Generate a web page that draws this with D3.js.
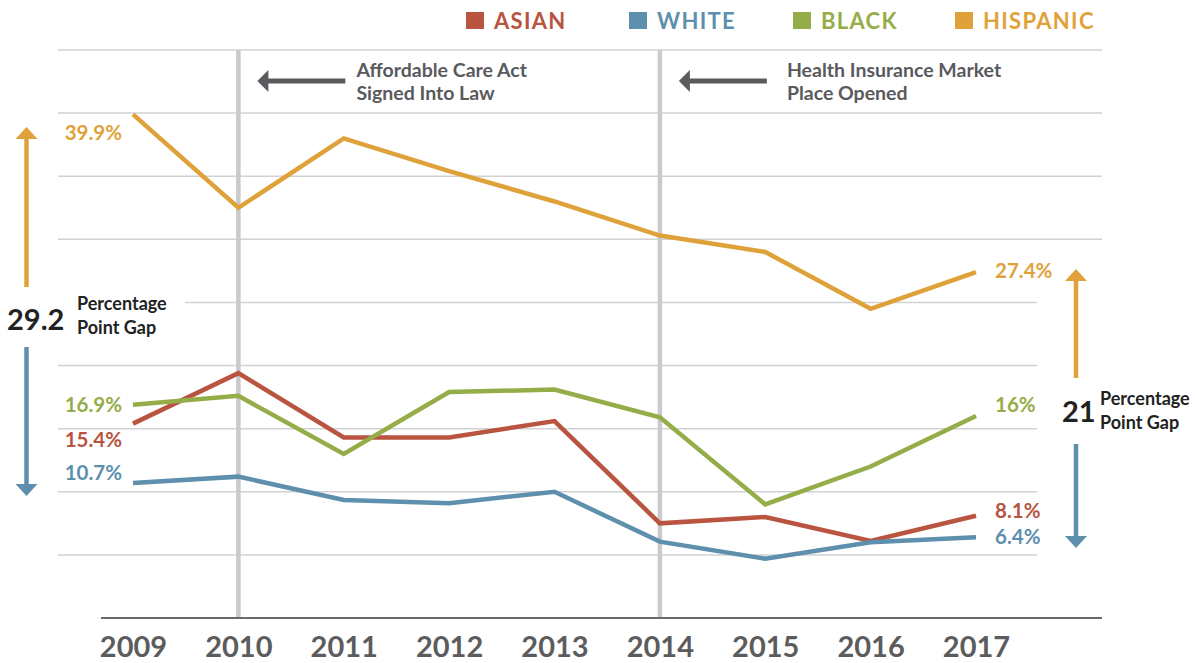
<!DOCTYPE html>
<html>
<head>
<meta charset="utf-8">
<script src="https://cdn.jsdelivr.net/npm/d3@7"></script>
<style>
  html, body { margin: 0; padding: 0; background: #fff; }
  svg { display: block; font-family: Lato, "Open Sans", sans-serif; }
</style>
</head>
<body>
<svg id="chart" width="1195" height="663"></svg>
<script>
// Uninsured rate (%) by group, 2009–2017
const years    = [2009, 2010, 2011, 2012, 2013, 2014, 2015, 2016, 2017];
const asian    = [15.4, 19.4, 14.3, 14.3, 15.6, 7.5, 8.0, 6.1, 8.1];
const white    = [10.7, 11.2, 9.35, 9.1, 10.0, 6.05, 4.7, 6.0, 6.4];
const black    = [16.9, 17.6, 13.0, 17.9, 18.1, 15.9, 9.0, 12.0, 16.0];
const hispanic = [39.9, 32.5, 38.0, 35.4, 33.0, 30.3, 29.0, 24.5, 27.4];
const gridValues = [5, 10, 15, 20, 25, 30, 35, 40, 45];
const seriesNames = ["ASIAN", "WHITE", "BLACK", "HISPANIC"];
const startLabels = ["15.4%", "10.7%", "16.9%", "39.9%"];
const endLabels   = ["8.1%", "6.4%", "16%", "27.4%"];
const eventYears = [2010, 2014];
const eventTexts = [
  ["Affordable Care Act", "Signed Into Law"],
  ["Health Insurance Market", "Place Opened"]
];
const gapStart = "29.2";
const gapEnd = "21";

const colors = ["#B85440", "#5E8FAD", "#95AD48", "#DFA23A"];
const seriesValues = [asian, white, black, hispanic];

const svg = d3.select("#chart");
const x = d3.scaleLinear().domain([2009, 2017]).range([133, 976]);
const y = d3.scaleLinear().domain([0, 45]).range([618, 50]);

// gridlines
svg.append("g").selectAll("line").data(gridValues).join("line")
  .attr("x1", d => d === 25 ? 185 : 58)
  .attr("x2", d => d > 25 ? 1102 : 1037)
  .attr("y1", d => y(d)).attr("y2", d => y(d))
  .attr("stroke", "#D2D2D4").attr("stroke-width", 1.5);

// event markers
svg.append("g").selectAll("line").data(eventYears).join("line")
  .attr("x1", d => x(d)).attr("x2", d => x(d))
  .attr("y1", y(45)).attr("y2", 618)
  .attr("stroke", "#C9C9CE").attr("stroke-width", 4.5);

// x axis baseline and labels
const xAxis = d3.axisBottom(x).tickValues(years).tickFormat(d3.format("d")).tickSize(0).tickPadding(18);
const gx = svg.append("g").attr("transform", "translate(0,618)").call(xAxis);
gx.select(".domain").remove();
gx.selectAll("text").attr("font-size", 29).attr("font-weight", 700)
  .attr("fill", "#5C5C5E").attr("font-family", "Lato, sans-serif");
svg.append("line").attr("x1", 101).attr("x2", 1102).attr("y1", 618).attr("y2", 618)
  .attr("stroke", "#6A6A6C").attr("stroke-width", 2);

// event annotations: arrow pointing back to the marker, two-line caption
const textOffset = [118, 127];
const annot = svg.append("g").selectAll("g").data(eventYears).join("g")
  .attr("transform", d => `translate(${x(d)},0)`);
annot.append("line").attr("x1", 26).attr("x2", 107).attr("y1", 81).attr("y2", 81)
  .attr("stroke", "#5A5B5E").attr("stroke-width", 5);
annot.append("path").attr("d", "M19,81 L30,70 L30,92 Z").attr("fill", "#5A5B5E");
annot.each(function(d, k) {
  const t = d3.select(this).append("text").attr("font-size", 19.5)
    .attr("font-weight", 700).attr("fill", "#595A5D");
  eventTexts[k].forEach((ln, i) =>
    t.append("tspan").attr("x", textOffset[k]).attr("y", 77 + i * 23).text(ln));
});

// series lines
const line = d3.line().x((d, i) => x(years[i])).y(d => y(d));
svg.append("g").selectAll("path").data(seriesValues).join("path")
  .attr("d", d => line(d)).attr("fill", "none")
  .attr("stroke", (d, i) => colors[i]).attr("stroke-width", 4.5)
  .attr("stroke-linejoin", "miter");

// start / end value labels
const labelStyle = s => s.attr("font-size", 20.5).attr("font-weight", 700);
const startY = [447, 480, 412, 140];
const endY = [518, 544, 412, 278];
svg.append("g").selectAll("text").data(startLabels).join("text")
  .attr("x", 122).attr("y", (d, i) => startY[i]).attr("text-anchor", "end")
  .attr("fill", (d, i) => colors[i]).text(d => d).call(labelStyle);
svg.append("g").selectAll("text").data(endLabels).join("text")
  .attr("x", 995).attr("y", (d, i) => endY[i])
  .attr("fill", (d, i) => colors[i]).text(d => d).call(labelStyle);

// legend
const legendX = [466, 629, 793, 955];
const lg = svg.append("g").selectAll("g").data(seriesNames).join("g")
  .attr("transform", (d, i) => `translate(${legendX[i]},0)`);
lg.append("rect").attr("x", 0).attr("y", 12).attr("width", 18).attr("height", 17)
  .attr("fill", (d, i) => colors[i]);
lg.append("text").attr("x", 28).attr("y", 29).attr("font-size", 22).attr("font-weight", 700)
  .attr("letter-spacing", 1.3).attr("fill", (d, i) => colors[i]).text(d => d);

// gap arrows
function gapArrow(cx, top, bottom, color, up) {
  const g = svg.append("g");
  if (up) {
    g.append("line").attr("x1", cx).attr("x2", cx).attr("y1", top + 10).attr("y2", bottom)
      .attr("stroke", color).attr("stroke-width", 4.5);
    g.append("path").attr("d", `M${cx},${top} L${cx - 11},${top + 12} L${cx + 11},${top + 12} Z`).attr("fill", color);
  } else {
    g.append("line").attr("x1", cx).attr("x2", cx).attr("y1", top).attr("y2", bottom - 10)
      .attr("stroke", color).attr("stroke-width", 4.5);
    g.append("path").attr("d", `M${cx},${bottom} L${cx - 11},${bottom - 12} L${cx + 11},${bottom - 12} Z`).attr("fill", color);
  }
}
gapArrow(26.5, 127, 287, colors[3], true);
gapArrow(26.5, 347, 496, colors[1], false);
gapArrow(1076, 269, 378, colors[3], true);
gapArrow(1076, 444, 548, colors[1], false);

function gapLabel(nx, ny, num, tx, ty) {
  svg.append("text").attr("x", nx).attr("y", ny).attr("font-size", 29).attr("font-weight", 700)
    .attr("fill", "#222").text(num);
  const t = svg.append("text").attr("font-size", 18).attr("font-weight", 700).attr("fill", "#222");
  t.append("tspan").attr("x", tx).attr("y", ty).text("Percentage");
  t.append("tspan").attr("x", tx).attr("y", ty + 24).text("Point Gap");
}
gapLabel(7, 330, gapStart, 77, 310);
gapLabel(1062, 422, gapEnd, 1100, 405);
</script>
</body>
</html>
